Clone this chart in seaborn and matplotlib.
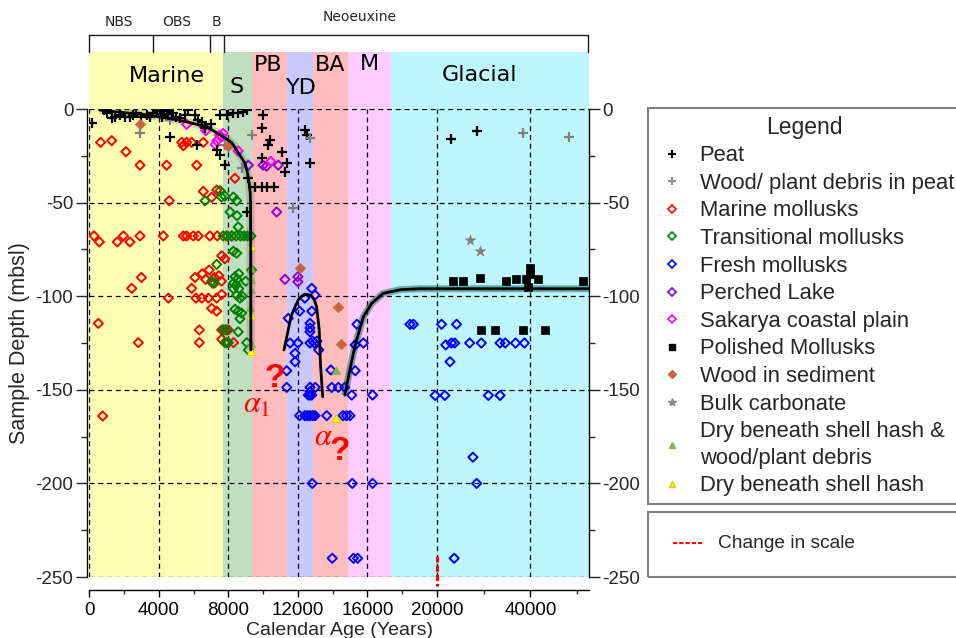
import numpy as np
import matplotlib
matplotlib.use("Agg")
import matplotlib.pyplot as plt
from matplotlib.lines import Line2D
from matplotlib.patches import Rectangle
from matplotlib.ticker import FixedLocator
import seaborn as sns

# ---------------------------------------------------------------------------
# Radiocarbon samples: (calendar age in years, sample depth in m below sea level)
# ---------------------------------------------------------------------------
peat = [(140, -7.6), (850, -0.5), (1000, -2), (1290, -5), (1500, -4), (1770, -3),
        (2060, -4), (2340, -4.3), (2530, -3), (2700, -2), (3000, -4), (3300, -3),
        (3500, -4), (3670, -2), (3900, -1), (4100, -1), (4170, -4), (4200, -2.5),
        (4300, -0.3), (4450, -1), (4550, -3), (4640, -14.8), (4800, -2), (5000, -4),
        (5220, -5), (5500, -3), (5700, -0.5), (6080, -3), (6180, -19), (6270, -5.9),
        (6500, -7), (6660, -10), (7000, -8), (7330, -22), (7520, -3.2), (7520, -24.6),
        (7800, -30), (7900, -3), (8290, -2.3), (8570, -2.3), (8860, -1.4), (9060, -0.5),
        (9150, -37), (9060, -55), (9530, -41.5), (9920, -41.5), (10200, -41.5),
        (10600, -41.5), (10000, -3.2), (9920, -10.3), (10400, -16.5), (10300, -19.2),
        (11070, -22.8), (9920, -26.3), (11360, -29), (11260, -33.4), (12400, -11.2),
        (12500, -13.9), (12700, -29), (23100, -16.2), (28500, -11.6)]

wood_in_peat = [(2920, -13), (4640, -5.9), (7800, -19), (8770, -31.7), (9340, -13.9),
                (11740, -53), (12700, -15.7), (38400, -13), (48300, -15.1)]

marine = [(650, -17.8), (1290, -16.9), (2110, -22.8), (2920, -30), (4450, -30),
          (6180, -30), (5320, -17.8), (5600, -17.8), (5890, -17.8), (5410, -19.6),
          (6560, -17.8), (8380, -37), (6560, -44), (7040, -47.2), (7330, -43.3),
          (4600, -49), (270, -67.8), (580, -71), (1610, -71), (1960, -67.8), (2340, -71),
          (2920, -67.8), (4260, -67.8), (5410, -67.8), (5600, -67.8), (5980, -67.8),
          (6270, -67.8), (6940, -67.8), (7360, -67.8), (7900, -67.8), (8200, -67.8),
          (7620, -78.4), (7800, -80), (3000, -90), (2440, -95.8), (6080, -90),
          (6500, -88), (6700, -91), (6900, -86), (7100, -93), (7200, -90), (7450, -89),
          (7600, -92), (4550, -101), (5890, -95.8), (6140, -101), (6470, -101),
          (6850, -101), (7330, -101), (7620, -99), (7040, -106.5), (7330, -108),
          (520, -114.5), (6330, -118), (7620, -118), (7810, -118), (8000, -118),
          (2820, -124.8), (6330, -124.8), (7620, -123), (7900, -124.8), (8300, -124.8),
          (770, -164)]

transitional = [(7520, -43.6), (6660, -49), (7600, -47), (7800, -46.5), (8290, -47),
                (8480, -49), (8100, -55), (8500, -57), (8570, -63), (7700, -67.8),
                (7950, -67.8), (8200, -67.8), (8450, -67.8), (8700, -67.8), (8900, -67.8),
                (9100, -67.8), (9300, -67.8), (8290, -76), (8480, -77), (7330, -83),
                (8380, -89.6), (8500, -91), (8600, -88), (9340, -86), (7040, -92),
                (7200, -93), (8300, -93), (8450, -94), (8600, -96), (8800, -100),
                (9000, -92), (8290, -96), (8480, -99.4), (8670, -101), (8380, -107),
                (8570, -108), (8760, -109), (8670, -112), (8570, -119), (7700, -118),
                (7900, -118), (7800, -124.8), (8000, -124.8), (9060, -124.8), (9150, -128.7)]

fresh = [(12800, -95.8), (12990, -99.4), (12400, -101), (12100, -108), (12800, -108),
         (11450, -111.8), (12700, -114.5), (12700, -117), (12700, -119), (15400, -115),
         (11550, -125), (12000, -125), (12700, -125), (12850, -124), (12950, -125),
         (13100, -124), (13200, -128.7), (11840, -130.5), (11840, -135), (15300, -126),
         (15770, -125), (13900, -139.4), (15300, -139.8), (11360, -139.8), (11360, -148.7),
         (12700, -148.7), (13000, -148.7), (12600, -152.8), (12700, -152.8), (12800, -152.8),
         (12700, -151), (13950, -148.7), (14330, -148.7), (14700, -148.7), (15100, -152.8),
         (16300, -152.8), (12100, -163.8), (12400, -163.8), (12550, -163.8), (12700, -163.8),
         (12850, -163.8), (12990, -163.8), (13660, -163.8), (14600, -163.8), (14800, -163.8),
         (15000, -163.8), (18450, -115), (18650, -115), (21000, -115), (24200, -115),
         (21900, -126), (23100, -125), (23800, -125), (27000, -125), (29500, -125),
         (33500, -125), (34600, -125), (36800, -125), (38700, -125), (22800, -135),
         (19900, -153), (21700, -153), (31000, -153), (33500, -153), (27700, -186),
         (12830, -200), (15130, -200), (16300, -200), (28500, -200), (13980, -240),
         (15200, -240), (15440, -240), (23700, -240)]

perched_lake = [(9150, -30), (10000, -30), (10200, -30.5), (10870, -30), (10780, -55),
                (11260, -91), (12000, -89.6), (12000, -92.3)]

sakarya = [(5600, -8.2), (6600, -9.4), (6700, -11.6), (7500, -14), (7600, -15),
           (7330, -17), (7700, -13), (7250, -19), (8570, -22.4), (10440, -28)]

polished = [(23500, -92), (25600, -92), (29200, -90), (34700, -92), (37000, -91),
            (39100, -91), (39900, -85), (39900, -88), (41700, -91), (39500, -95),
            (51300, -92), (29500, -118), (32400, -118), (38300, -118), (43100, -118)]

wood_in_sediment = [(2920, -8.2), (8000, -19.8), (12120, -85), (14330, -106), (14500, -125.7)]

bulk_carbonate = [(27100, -70), (29200, -76)]

dry_hash_wood = [(9280, -85), (9280, -91), (9280, -96), (9250, -105.6), (9280, -124.8),
                 (14200, -139.4)]

dry_hash = [(9280, -73.2), (9280, -110), (9280, -129.3), (14200, -165)]

# Sea-level curve segments
curve_holocene = [(600, -0.5), (1500, -1.5), (3300, -3), (5200, -6), (6750, -9.4),
                  (7700, -14.8), (8200, -18), (8480, -22), (8960, -29), (9100, -34),
                  (9200, -39.7), (9260, -45), (9280, -50), (9290, -90), (9300, -128.7)]
curve_yd = [(11200, -128.7), (11450, -118), (11600, -111), (11840, -105.6), (12050, -101.5),
            (12300, -99.4), (12550, -99), (12800, -100), (12950, -102), (13080, -105.6),
            (13230, -118), (13300, -135.9), (13430, -153.7)]
curve_glacial = [(14700, -152.8), (15000, -139), (15300, -126), (15770, -111),
                 (16250, -103.8), (16900, -98.5), (17900, -96.5), (19000, -96),
                 (20000, -96), (52500, -96)]

# Climatic / stratigraphic periods
period_names = ["Marine", "S", "PB", "YD", "BA", "M", "Glacial"]
period_bounds = [0, 7700, 9350, 11400, 12900, 14900, 17350, 52500]
period_colors = ["#ffffb4", "#bfdfbf", "#ffbcbc", "#c9c9ff", "#ffbcbc", "#ffccff", "#bdf6fc"]
period_label_age = [4470, 8480, 10300, 12200, 13850, 16100, 29200]
period_label_y = [17.6, 11.7, 23.5, 11.5, 23.5, 24.0, 18.2]

unit_bounds = [0, 3680, 6940, 7750, 52300]
unit_names = ["NBS", "OBS", "B", "Neoeuxine"]
unit_label_age = [1730, 5030, 7330, 15580]
unit_label_y = [44.6, 44.6, 44.6, 47.2]

x_ticks = [0, 4000, 8000, 12000, 16000, 20000, 40000]
x_minor = [2000, 6000, 10000, 14000, 18000, 30000, 50000]
y_ticks = [0, -50, -100, -150, -200, -250]

# ---------------------------------------------------------------------------
sns.set_theme(style="white")
plt.rcParams["font.family"] = ["Liberation Sans", "DejaVu Sans"]
plt.rcParams["mathtext.fontset"] = "stix"

BREAK = 20000.0
K = 0.2693


def fwd(x):
    x = np.asarray(x, dtype=float)
    return np.where(x <= BREAK, x, BREAK + (x - BREAK) * K)


def inv(y):
    y = np.asarray(y, dtype=float)
    return np.where(y <= BREAK, y, BREAK + (y - BREAK) / K)


fig = plt.figure(figsize=(9.56, 6.38), dpi=100)
ax = fig.add_axes([0.0934, 0.0956, 0.5227, 0.7335])
ax.set_xscale("function", functions=(fwd, inv))
ax.set_xlim(0, 52500)
ax.set_ylim(-250, 0)

TOP = 30.4  # height of the period bands above the depth axis (m)
for name, x0, x1, col, lx, ly in zip(period_names, period_bounds[:-1], period_bounds[1:],
                                     period_colors, period_label_age, period_label_y):
    ax.axvspan(x0, x1, ymin=0, ymax=1 + TOP / 250, color=col, lw=0, zorder=0.1, clip_on=False)
    ax.text(lx, ly, name, ha="center", va="center", fontsize=16, family="DejaVu Sans",
            color="black", clip_on=False)

# stratigraphic unit bracket
BR = 39.5
ax.plot([unit_bounds[0], unit_bounds[-1]], [BR, BR], color="k", lw=1, clip_on=False)
for b in unit_bounds:
    ax.plot([b, b], [TOP, BR], color="k", lw=1, clip_on=False)
for name, lx, ly in zip(unit_names, unit_label_age, unit_label_y):
    ax.text(lx, ly, name, ha="center", va="baseline", fontsize=10, family="DejaVu Sans",
            clip_on=False)

ax.set_axisbelow(True)
ax.grid(True, which="major", color="black", ls=(0, (4, 3)), lw=0.9)


def xy(pairs):
    a, d = zip(*pairs)
    return np.array(a, float), np.array(d, float)


def open_diamonds(pairs, color):
    a, d = xy(pairs)
    sns.scatterplot(x=a, y=d, ax=ax, marker="D", s=22, color=color, facecolor="none",
                    edgecolor=color, linewidth=1.4, legend=False, zorder=4)


# soft halo under two of the curve segments
for pairs, shadow in [(curve_holocene, ("#777766", 6, 0.3)),
                      (curve_glacial, ("#1f6f6f", 5, 0.55))]:
    a, d = xy(pairs)
    ax.plot(a, d, color=shadow[0], lw=shadow[1], alpha=shadow[2], zorder=2.5,
            solid_capstyle="butt")

open_diamonds(marine, "#ff0000")
open_diamonds(transitional, "#008000")
open_diamonds(fresh, "#0000ff")
open_diamonds(perched_lake, "#9400d3")
open_diamonds(sakarya, "#ff00ff")

a, d = xy(peat)
sns.scatterplot(x=a, y=d, ax=ax, marker="+", s=60, color="black", linewidth=1.6,
                legend=False, zorder=5)
a, d = xy(wood_in_peat)
sns.scatterplot(x=a, y=d, ax=ax, marker="+", s=60, color="#808080", linewidth=1.6,
                legend=False, zorder=5)
a, d = xy(polished)
sns.scatterplot(x=a, y=d, ax=ax, marker="s", s=40, color="black", edgecolor="black",
                linewidth=0.5, legend=False, zorder=5)
a, d = xy(wood_in_sediment)
sns.scatterplot(x=a, y=d, ax=ax, marker="D", s=28, color="#c8643c", edgecolor="#c8643c",
                linewidth=0.5, legend=False, zorder=5)
a, d = xy(bulk_carbonate)
sns.scatterplot(x=a, y=d, ax=ax, marker="*", s=60, color="#7f7f7f", edgecolor="#7f7f7f",
                linewidth=0.5, legend=False, zorder=5)
a, d = xy(dry_hash_wood)
sns.scatterplot(x=a, y=d, ax=ax, marker="^", s=36, color="#86b24a", edgecolor="#86b24a",
                linewidth=0.5, legend=False, zorder=5)
a, d = xy(dry_hash)
sns.scatterplot(x=a, y=d, ax=ax, marker="^", s=36, color="#ffff00", edgecolor="#d8c800",
                linewidth=0.6, legend=False, zorder=5)

for pairs in (curve_holocene, curve_yd, curve_glacial):
    a, d = xy(pairs)
    sns.lineplot(x=a, y=d, ax=ax, color="black", lw=2, sort=False, estimator=None,
                 legend=False, zorder=6)

# scale-change marker on the age axis
ax.plot([BREAK, BREAK], [-239, -255], color="red", ls=(0, (2, 1)), lw=2.2, clip_on=False,
        zorder=7)

# question marks and alpha labels
ax.text(10680, -143.7, "?", color="red", fontsize=24, fontweight="bold", ha="center",
        va="center", zorder=8)
ax.text(9650, -158, r"$\alpha_1$", color="red", fontsize=22, ha="center", va="center",
        zorder=8)
ax.text(13450, -175, r"$\alpha$", color="red", fontsize=22, ha="center", va="center",
        zorder=8)
ax.text(14430, -183, "?", color="red", fontsize=24, fontweight="bold", ha="center",
        va="center", zorder=8)

# axes / ticks
ax.spines["top"].set_visible(False)
for s in ("left", "right", "bottom"):
    ax.spines[s].set_visible(True)
    ax.spines[s].set_color("black")
    ax.spines[s].set_linewidth(1.0)
ax.spines["bottom"].set_position(("outward", 9))
ax.spines["left"].set_position(("outward", 2))

ax.set_xticks(x_ticks)
ax.set_xticklabels([f"{v:d}" for v in x_ticks])
ax.xaxis.set_minor_locator(FixedLocator(x_minor))
ax.set_yticks(y_ticks)
ax.set_yticklabels([f"{v:d}" for v in y_ticks])
ax.yaxis.set_minor_locator(FixedLocator([-25, -75, -125, -175, -225]))
ax.tick_params(axis="x", which="major", direction="out", length=5, width=1, pad=4,
               labelsize=13.5, bottom=True, colors="black")
ax.tick_params(axis="x", which="minor", direction="out", length=3, width=1, bottom=True)
ax.tick_params(axis="y", which="major", direction="out", length=8, width=1, pad=1.5,
               labelsize=13.5, left=True, right=True, labelleft=True, labelright=True)
ax.tick_params(axis="y", which="minor", direction="out", length=4, width=1, left=True,
               right=True)
ax.set_xlabel("Calendar Age (Years)", fontsize=14, labelpad=2)
ax.set_ylabel("Sample Depth (mbsl)", fontsize=15.5, labelpad=4)

# legend
handles = [
    Line2D([], [], ls="none", marker="+", color="black", ms=6, mew=1.5, label="Peat"),
    Line2D([], [], ls="none", marker="+", color="#909090", ms=6, mew=1.5,
           label="Wood/ plant debris in peat"),
    Line2D([], [], ls="none", marker="D", mfc="none", mec="#ff0000", ms=4, mew=1.2,
           label="Marine mollusks"),
    Line2D([], [], ls="none", marker="D", mfc="none", mec="#008000", ms=4, mew=1.2,
           label="Transitional mollusks"),
    Line2D([], [], ls="none", marker="D", mfc="none", mec="#0000ff", ms=4, mew=1.2,
           label="Fresh mollusks"),
    Line2D([], [], ls="none", marker="D", mfc="none", mec="#9400d3", ms=4, mew=1.2,
           label="Perched Lake"),
    Line2D([], [], ls="none", marker="D", mfc="none", mec="#ff00ff", ms=4, mew=1.2,
           label="Sakarya coastal plain"),
    Line2D([], [], ls="none", marker="s", color="black", ms=5, label="Polished Mollusks"),
    Line2D([], [], ls="none", marker="D", color="#c8643c", ms=4.5, label="Wood in sediment"),
    Line2D([], [], ls="none", marker="*", color="#8a8a8a", ms=6, label="Bulk carbonate"),
    Line2D([], [], ls="none", marker="^", color="#86b24a", ms=5,
           label="Dry beneath shell hash &\nwood/plant debris"),
    Line2D([], [], ls="none", marker="^", color="#ffff00", mec="#d8c800", ms=5,
           label="Dry beneath shell hash"),
]
leg = fig.legend(handles=handles, title="Legend", loc="upper left",
                 bbox_to_anchor=(648 / 956, 1 - 108 / 638), bbox_transform=fig.transFigure,
                 borderaxespad=0, frameon=True, fancybox=False, edgecolor="#808080",
                 framealpha=1, prop={"family": "Liberation Sans", "size": 15.8},
                 title_fontproperties={"family": "Liberation Sans", "size": 16.5},
                 labelspacing=0.30, handlelength=1.5, handletextpad=0.5, borderpad=0.35,
                 numpoints=1)
for t in leg.get_texts():
    t.set_linespacing(1.35)
leg.get_frame().set_linewidth(1.5)

# separate key for the scale change
fig.add_artist(Rectangle((648 / 956, 1 - 577 / 638), 0.36, (577 - 512) / 638,
                         transform=fig.transFigure, fill=False, ec="#808080", lw=1.5))
fig.add_artist(Line2D([673 / 956, 703 / 956], [1 - 543 / 638] * 2, transform=fig.transFigure,
                      color="red", ls=(0, (2, 1)), lw=1.5))
fig.text(718 / 956, 1 - 543 / 638, "Change in scale", fontsize=13.8, va="center", ha="left",
         family="Liberation Sans")

fig.savefig("out.png", dpi=100)
